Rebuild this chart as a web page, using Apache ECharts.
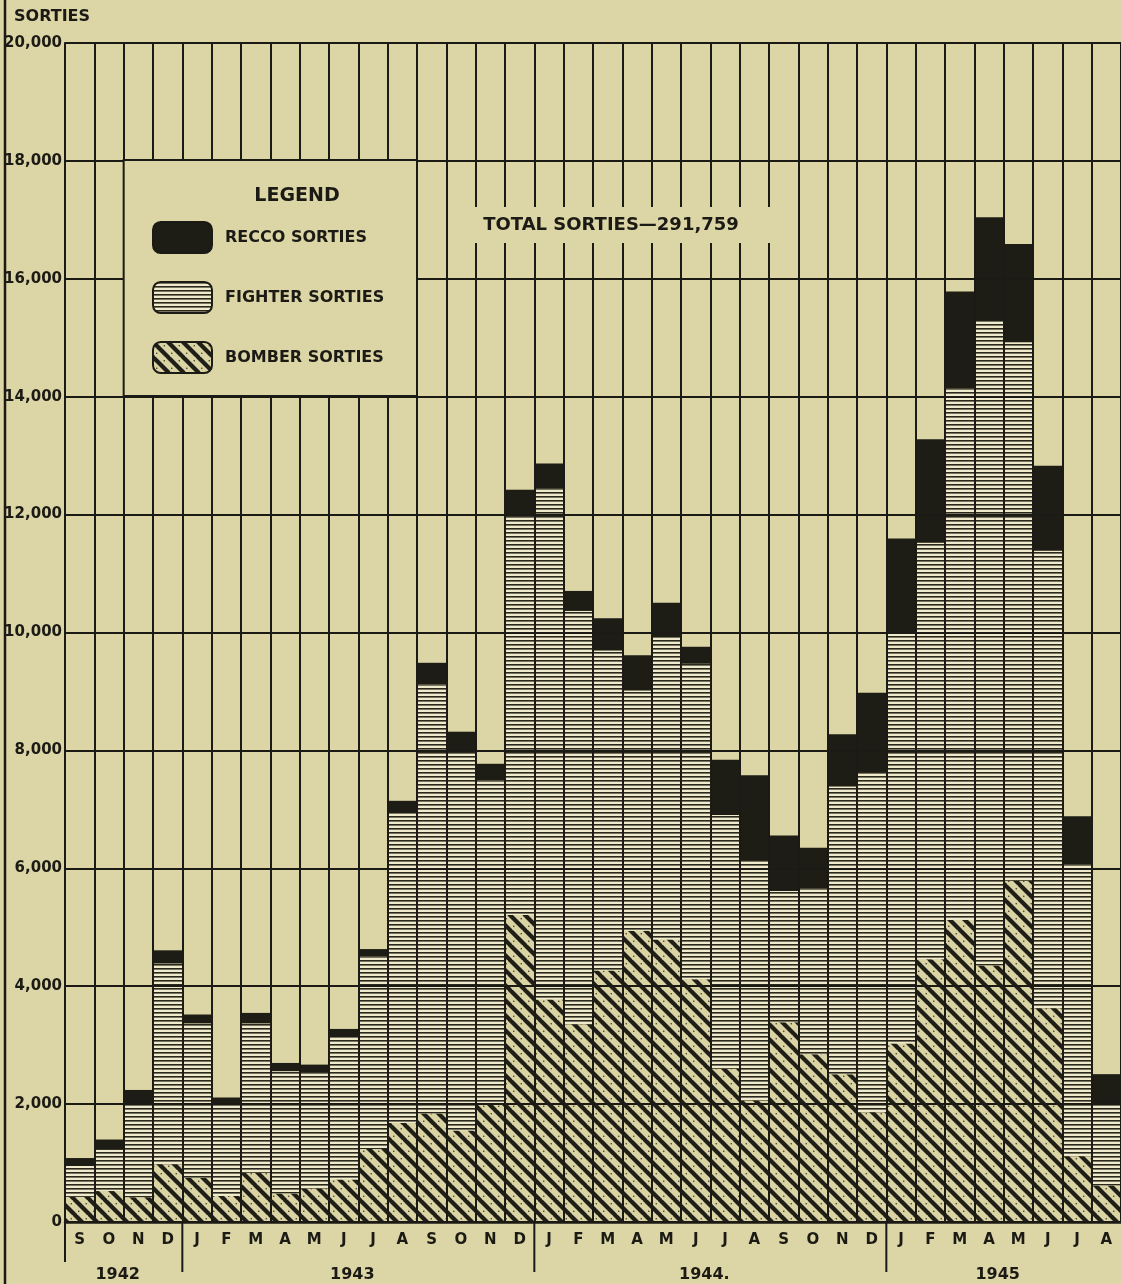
<!DOCTYPE html>
<html>
<head>
<meta charset="utf-8">
<script src="https://cdn.jsdelivr.net/npm/echarts@6/dist/echarts.min.js"></script>
<style>
	html, body { margin: 0; padding: 0; background: #dcd6a6; }
	#main { width: 1121px; height: 1284px; }
</style>
</head>
<body>
<div id="main"></div>
<script>
// months, Sep 1942 - Aug 1945
var months = [ 'S', 'O', 'N', 'D',
	'J', 'F', 'M', 'A', 'M', 'J', 'J', 'A', 'S', 'O', 'N', 'D',
	'J', 'F', 'M', 'A', 'M', 'J', 'J', 'A', 'S', 'O', 'N', 'D',
	'J', 'F', 'M', 'A', 'M', 'J', 'J', 'A' ];
var years = [ '1942', '1943', '1944.', '1945' ];
var yTicks = [ 0, 2000, 4000, 6000, 8000, 10000, 12000, 14000, 16000, 18000, 20000 ];

// sorties per month
var bomberSorties = [ 426, 525, 420, 980,
	746, 443, 834, 484, 570, 720, 1240, 1680, 1840, 1552, 2020, 5206,
	3776, 3356, 4265, 4941, 4794, 4118, 2600, 2060, 3390, 2847, 2508, 1862,
	3030, 4456, 5123, 4351, 5789, 3627, 1117, 621 ];
var fighterSorties = [ 524, 699, 1597, 3405,
	2623, 1574, 2535, 2075, 1960, 2415, 3270, 5255, 7279, 6428, 5467, 6756,
	8669, 7010, 5430, 4076, 5126, 5352, 4305, 4079, 2224, 2816, 4881, 5770,
	6955, 7066, 9019, 10935, 9135, 7758, 4952, 1379 ];
var reccoSorties = [ 135, 175, 223, 224,
	151, 95, 178, 139, 140, 140, 120, 210, 367, 337, 286, 460,
	422, 339, 546, 598, 583, 288, 938, 1438, 942, 684, 887, 1347,
	1608, 1758, 1643, 1756, 1665, 1442, 813, 508 ];

var ink = '#1b1a14';
var paper = '#dcd6a6';
var fontFam = 'DejaVu Sans';

// 横线纹理 (fighter)
function stripePattern() {
	var c = document.createElement('canvas');
	c.width = 8;
	c.height = 4;
	var ctx = c.getContext('2d');
	ctx.fillStyle = '#eeeacb';
	ctx.fillRect(0, 0, 8, 4);
	ctx.fillStyle = '#2a281d';
	ctx.fillRect(0, 0, 8, 1.6);
	return c;
}

// 斜线纹理 (bomber)
function hatchPattern() {
	var s = 15;
	var c = document.createElement('canvas');
	c.width = s;
	c.height = s;
	var ctx = c.getContext('2d');
	ctx.fillStyle = '#dad4a4';
	ctx.fillRect(0, 0, s, s);
	ctx.strokeStyle = '#201f17';
	ctx.lineWidth = 4.2;
	for (var k = -1; k <= 1; k++) {
		ctx.beginPath();
		ctx.moveTo(k * s - 1, -1);
		ctx.lineTo(k * s + s + 1, s + 1);
		ctx.stroke();
	}
	ctx.fillStyle = '#3a382b';
	ctx.beginPath();
	ctx.arc(11.25, 3.75, 0.8, 0, Math.PI * 2);
	ctx.arc(3.75, 11.25, 0.8, 0, Math.PI * 2);
	ctx.fill();
	return c;
}

function fmt(v) {
	return String(v).replace(/\B(?=(\d{3})+(?!\d))/g, ',');
}

var gridLeft = 65, gridTop = 43, gridBottom = 62;
var catW = (1121 - gridLeft) / months.length;
var axisY = 1284 - gridBottom;

var myChart = echarts.init(document.getElementById('main'));

var graphics = [
	{ type : 'line', shape : { x1 : 5, y1 : 0, x2 : 5, y2 : 1284 }, style : { stroke : ink, lineWidth : 2.5 }, z : 10 },
	{ type : 'text', left : 14, top : 9, style : { text : 'SORTIES', fill : ink, font : 'bold 16px ' + fontFam }, z : 11 },
	// legend box
	{ type : 'rect', shape : { x : gridLeft + 2 * catW, y : 160, width : 10 * catW, height : 236 },
		style : { fill : paper, stroke : ink, lineWidth : 2 }, z : 10 },
	{ type : 'text', x : 297, y : 196, style : { text : 'LEGEND', fill : ink, font : 'bold 19px ' + fontFam,
		textAlign : 'center', textVerticalAlign : 'middle' }, z : 11 },
	// total
	{ type : 'rect', shape : { x : 450, y : 207, width : 320, height : 36 }, style : { fill : paper }, z : 10 },
	{ type : 'text', x : 611, y : 225, style : { text : 'TOTAL SORTIES\u2014291,759', fill : ink,
		font : 'bold 18px ' + fontFam, textAlign : 'center', textVerticalAlign : 'middle' }, z : 11 },
	{ type : 'line', shape : { x1 : gridLeft, y1 : axisY, x2 : gridLeft, y2 : axisY + 40 }, style : { stroke : ink, lineWidth : 2 }, z : 10 }
];
var yearStart = [ 0, 4, 16, 28 ];
var yearEnd = [ 4, 16, 28, 36 ];
for (var i = 0; i < years.length; i++) {
	if (i > 0) {
		var bx = gridLeft + yearStart[i] * catW;
		graphics.push({ type : 'line', shape : { x1 : bx, y1 : axisY, x2 : bx, y2 : axisY + 50 },
			style : { stroke : ink, lineWidth : 2 }, z : 10 });
	}
	var cx = gridLeft + (yearStart[i] + yearEnd[i]) / 2 * catW;
	graphics.push({ type : 'text', x : cx - 6, y : 1275, style : { text : years[i], fill : ink,
		font : 'bold 16px ' + fontFam, textAlign : 'center', textVerticalAlign : 'middle' }, z : 11 });
}

var option = {
	backgroundColor : paper,
	animation : false,
	textStyle : { fontFamily : fontFam },
	grid : {
		left : gridLeft,
		right : 0,
		top : gridTop,
		bottom : gridBottom,
		outerBoundsMode : 'none'
	},
	legend : {
		data : [ 'RECCO SORTIES', 'FIGHTER SORTIES', 'BOMBER SORTIES' ],
		orient : 'vertical',
		left : 152,
		top : 221,
		padding : 0,
		itemWidth : 59,
		itemHeight : 31,
		itemGap : 27,
		icon : 'roundRect',
		selectedMode : false,
		z : 12,
		itemStyle : { borderColor : ink, borderWidth : 2 },
		textStyle : { color : ink, fontSize : 16, fontWeight : 'bold', fontFamily : fontFam, padding : [ 0, 0, 0, 8 ] }
	},
	xAxis : {
		type : 'category',
		data : months,
		z : 3,
		axisLine : { lineStyle : { color : ink, width : 2.5 } },
		axisTick : { show : false },
		axisLabel : { interval : 0, color : ink, fontSize : 15, fontWeight : 'bold', margin : 11 },
		splitLine : { show : true, interval : 0, lineStyle : { color : ink, width : 2 } }
	},
	yAxis : {
		type : 'value',
		min : yTicks[0],
		max : yTicks[yTicks.length - 1],
		interval : 2000,
		z : 3,
		axisLine : { show : true, lineStyle : { color : ink, width : 2 } },
		axisTick : { show : false },
		axisLabel : { color : ink, fontSize : 15, fontWeight : 'bold', margin : 3, formatter : fmt },
		splitLine : { lineStyle : { color : ink, width : 1.8 } }
	},
	series : [ {
		name : 'BOMBER SORTIES',
		type : 'bar',
		stack : 'total',
		barCategoryGap : '0%',
		itemStyle : { color : { image : hatchPattern(), repeat : 'repeat' } },
		data : bomberSorties
	}, {
		name : 'FIGHTER SORTIES',
		type : 'bar',
		stack : 'total',
		barCategoryGap : '0%',
		itemStyle : { color : { image : stripePattern(), repeat : 'repeat' } },
		data : fighterSorties
	}, {
		name : 'RECCO SORTIES',
		type : 'bar',
		stack : 'total',
		barCategoryGap : '0%',
		itemStyle : { color : '#1d1c15' },
		data : reccoSorties
	} ],
	graphic : { elements : graphics }
};

myChart.setOption(option);
</script>
</body>
</html>
